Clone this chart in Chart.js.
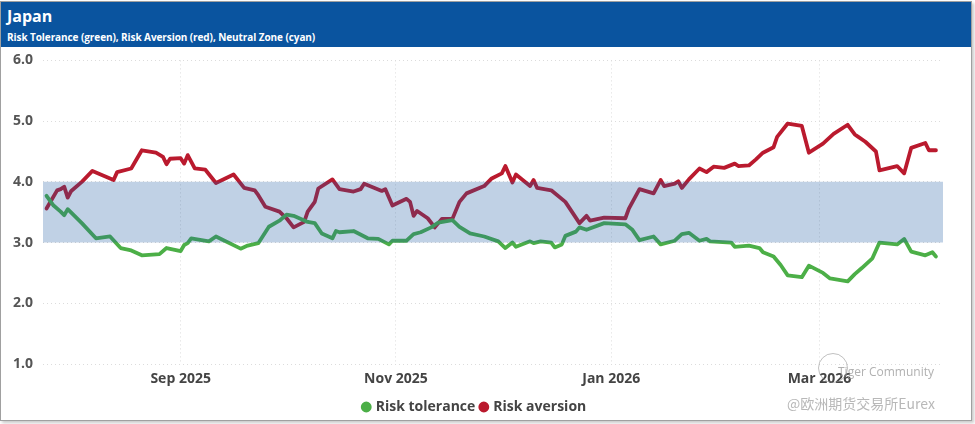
<!DOCTYPE html>
<html>
<head>
<meta charset="utf-8">
<script src="https://cdn.jsdelivr.net/npm/chart.js@4"></script>
<style>
  html, body { margin: 0; padding: 0; background: #ffffff; }
  body { width: 975px; height: 424px; overflow: hidden; font-family: "Open Sans", "Noto Sans", sans-serif; }
  #frame { position: absolute; left: 0; top: 1px; width: 970px; height: 418px; border: 1px solid #a0a0a0; box-shadow: 2px 2px 3px #c8c8c8; background: #fff; }
  #header { position: absolute; left: 0; top: 0; width: 970px; height: 45px; background: #0a549f; color: #fff; }
  #title { position: absolute; left: 6px; top: 3px; font-size: 16px; font-weight: 700; }
  #subtitle { position: absolute; left: 6px; top: 28px; font-size: 10px; letter-spacing: -0.08px; font-weight: 700; }
  #chartbox { position: absolute; left: 0; top: 40px; width: 970px; height: 382px; }
  #wm1 { position: absolute; left: 838px; top: 363px; font-size: 12px; color: rgba(150,150,150,0.75); font-family: "Open Sans", sans-serif; }
  #wm2 { position: absolute; left: 787px; top: 393px; font-size: 14px; color: rgba(160,160,160,0.75); font-family: "Noto Sans CJK SC", sans-serif; }
  #wmc { position: absolute; left: 818px; top: 353px; width: 28px; height: 28px; border: 1px solid rgba(140,140,140,0.55); border-radius: 50%; }
</style>
</head>
<body>
<div id="frame">
  <div id="header">
    <div id="title">Japan</div>
    <div id="subtitle">Risk Tolerance (green), Risk Aversion (red), Neutral Zone (cyan)</div>
  </div>
  <div id="chartbox"><canvas id="c"></canvas></div>
</div>
<div id="wmc"></div>
<div id="wm1">Tiger Community</div>
<div id="wm2">@欧洲期货交易所Eurex</div>
<script>
// ---------------- data ----------------
const toleranceDates = ['2025-07-25','2025-07-27','2025-07-29','2025-07-30','2025-07-31','2025-08-04','2025-08-08','2025-08-12','2025-08-15','2025-08-18','2025-08-21','2025-08-26','2025-08-28','2025-09-01','2025-09-02','2025-09-03','2025-09-04','2025-09-09','2025-09-11','2025-09-18','2025-09-20','2025-09-23','2025-09-26','2025-09-29','2025-10-01','2025-10-03','2025-10-07','2025-10-09','2025-10-11','2025-10-14','2025-10-15','2025-10-16','2025-10-20','2025-10-24','2025-10-27','2025-10-30','2025-10-31','2025-11-04','2025-11-06','2025-11-08','2025-11-11','2025-11-13','2025-11-17','2025-11-19','2025-11-22','2025-11-26','2025-11-30','2025-12-02','2025-12-04','2025-12-05','2025-12-09','2025-12-10','2025-12-12','2025-12-15','2025-12-16','2025-12-18','2025-12-19','2025-12-22','2025-12-23','2025-12-25','2025-12-30','2026-01-05','2026-01-07','2026-01-09','2026-01-13','2026-01-15','2026-01-19','2026-01-21','2026-01-23','2026-01-26','2026-01-28','2026-01-29','2026-02-04','2026-02-05','2026-02-09','2026-02-12','2026-02-13','2026-02-16','2026-02-18','2026-02-20','2026-02-24','2026-02-26','2026-03-02','2026-03-04','2026-03-09','2026-03-11','2026-03-13','2026-03-16','2026-03-18','2026-03-23','2026-03-25','2026-03-27','2026-03-31','2026-04-02','2026-04-03'];
const toleranceValues = [3.77,3.61,3.51,3.45,3.55,3.32,3.07,3.10,2.91,2.87,2.79,2.81,2.91,2.86,2.96,2.99,3.07,3.02,3.10,2.90,2.95,2.99,3.26,3.36,3.46,3.44,3.34,3.32,3.15,3.07,3.19,3.17,3.19,3.07,3.06,2.97,3.03,3.03,3.14,3.17,3.25,3.33,3.37,3.26,3.15,3.10,3.02,2.91,3.00,2.93,3.02,2.99,3.02,3.00,2.92,2.97,3.11,3.18,3.25,3.21,3.32,3.30,3.21,3.04,3.10,2.97,3.03,3.14,3.16,3.03,3.06,3.02,3.00,2.93,2.95,2.91,2.84,2.77,2.63,2.46,2.43,2.62,2.50,2.41,2.36,2.48,2.58,2.74,3.00,2.97,3.06,2.85,2.79,2.84,2.77];

const aversionDates = ['2025-07-25','2025-07-28','2025-07-29','2025-07-30','2025-07-31','2025-08-01','2025-08-04','2025-08-07','2025-08-13','2025-08-14','2025-08-18','2025-08-21','2025-08-25','2025-08-27','2025-08-28','2025-08-29','2025-09-01','2025-09-02','2025-09-03','2025-09-05','2025-09-08','2025-09-11','2025-09-16','2025-09-19','2025-09-22','2025-09-23','2025-09-25','2025-09-29','2025-10-01','2025-10-03','2025-10-06','2025-10-07','2025-10-09','2025-10-10','2025-10-14','2025-10-16','2025-10-20','2025-10-22','2025-10-23','2025-10-28','2025-10-29','2025-10-31','2025-11-04','2025-11-05','2025-11-06','2025-11-07','2025-11-10','2025-11-12','2025-11-14','2025-11-17','2025-11-19','2025-11-21','2025-11-26','2025-11-28','2025-12-01','2025-12-02','2025-12-04','2025-12-05','2025-12-09','2025-12-10','2025-12-11','2025-12-15','2025-12-19','2025-12-23','2025-12-25','2025-12-26','2025-12-30','2026-01-05','2026-01-06','2026-01-09','2026-01-13','2026-01-15','2026-01-16','2026-01-19','2026-01-20','2026-01-21','2026-01-23','2026-01-26','2026-01-28','2026-01-30','2026-02-02','2026-02-05','2026-02-06','2026-02-09','2026-02-11','2026-02-13','2026-02-16','2026-02-17','2026-02-20','2026-02-24','2026-02-26','2026-03-02','2026-03-05','2026-03-09','2026-03-11','2026-03-12','2026-03-14','2026-03-17','2026-03-18','2026-03-23','2026-03-25','2026-03-27','2026-03-31','2026-04-01','2026-04-03'];
const aversionValues = [3.56,3.86,3.88,3.92,3.74,3.85,4.00,4.18,4.03,4.16,4.22,4.52,4.48,4.41,4.29,4.38,4.39,4.30,4.44,4.22,4.20,3.98,4.12,3.90,3.86,3.78,3.59,3.51,3.40,3.25,3.34,3.51,3.67,3.89,4.04,3.88,3.84,3.88,3.97,3.85,3.88,3.61,3.72,3.67,3.44,3.52,3.40,3.25,3.39,3.39,3.67,3.81,3.93,4.05,4.14,4.26,3.99,4.12,3.93,4.03,3.90,3.86,3.67,3.32,3.44,3.36,3.41,3.40,3.56,3.88,3.81,4.03,3.93,3.97,4.01,3.90,4.04,4.22,4.16,4.25,4.23,4.30,4.26,4.27,4.37,4.48,4.57,4.74,4.96,4.92,4.48,4.63,4.79,4.94,4.78,4.74,4.66,4.50,4.19,4.26,4.14,4.56,4.64,4.52,4.52];

const neutralZone = [3.0, 4.0];          // lower / upper bound of neutral zone
const axisRange = ['2025-07-24', '2026-04-05'];
const xTickDates = ['2025-09-01', '2025-11-01', '2026-01-01', '2026-03-01'];
const xTickLabels = ['Sep 2025', 'Nov 2025', 'Jan 2026', 'Mar 2026'];
const yTicks = [1, 2, 3, 4, 5, 6];
const seriesNames = ['Risk tolerance', 'Risk aversion'];

// ---------------- helpers ----------------
function dayNum(s) {
  const p = s.split('-').map(Number);
  return Date.UTC(p[0], p[1] - 1, p[2]) / 86400000;
}
function pts(dates, values) { return dates.map((d, i) => ({ x: dayNum(d), y: values[i] })); }

const xMin = dayNum(axisRange[0]), xMax = dayNum(axisRange[1]);
const tickNums = xTickDates.map(dayNum);

const GREEN = '#4caf47';
const RED = '#ba1a2e';
const FONT = '"Open Sans", "Noto Sans", sans-serif';

new Chart(document.getElementById('c'), {
  type: 'line',
  data: {
    datasets: [
      {
        label: seriesNames[0], data: pts(toleranceDates, toleranceValues),
        borderColor: GREEN, backgroundColor: GREEN, borderWidth: 3.8,
        pointRadius: 0, tension: 0, order: 2, borderJoinStyle: 'round', borderCapStyle: 'round'
      },
      {
        label: seriesNames[1], data: pts(aversionDates, aversionValues),
        borderColor: RED, backgroundColor: RED, borderWidth: 3.8,
        pointRadius: 0, tension: 0, order: 2, borderJoinStyle: 'round', borderCapStyle: 'round'
      },
      {
        label: 'bandTop', data: [{ x: xMin, y: neutralZone[1] }, { x: xMax, y: neutralZone[1] }],
        borderWidth: 0, borderColor: 'rgba(0,0,0,0)', pointRadius: 0,
        backgroundColor: 'rgba(30,90,160,0.28)', fill: '+1', order: 0
      },
      {
        label: 'bandBottom', data: [{ x: xMin, y: neutralZone[0] }, { x: xMax, y: neutralZone[0] }],
        borderWidth: 0, borderColor: 'rgba(0,0,0,0)', pointRadius: 0, fill: false, order: 1
      }
    ]
  },
  options: {
    responsive: true,
    maintainAspectRatio: false,
    animation: false,
    layout: { padding: { left: 6, right: 28, top: 0, bottom: 0 } },
    scales: {
      x: {
        type: 'linear', min: xMin, max: xMax,
        afterBuildTicks: (s) => { s.ticks = tickNums.map(v => ({ value: v })); },
        afterFit: (s) => { s.height = 30; },
        ticks: {
          callback: (v) => { const i = tickNums.indexOf(v); return i >= 0 ? xTickLabels[i] : ''; },
          color: '#444', font: { family: FONT, size: 14, weight: '700' }, maxRotation: 0, padding: 7
        },
        grid: { color: '#dcdcdc', drawTicks: false, lineWidth: 1 },
        border: { display: false, dash: [1, 3] }
      },
      y: {
        min: 1, max: 6,
        afterBuildTicks: (s) => { s.ticks = yTicks.map(v => ({ value: v })); },
        afterFit: (s) => { s.width = 36; },
        ticks: {
          callback: (v) => v.toFixed(1),
          color: '#555', font: { family: FONT, size: 14, weight: '700' }, padding: 10
        },
        grid: { color: '#dcdcdc', drawTicks: false, lineWidth: 1 },
        border: { display: false, dash: [1, 3] }
      }
    },
    plugins: {
      legend: {
        position: 'bottom',
        labels: {
          filter: (item) => item.datasetIndex < 2,
          usePointStyle: true, pointStyle: 'circle', boxWidth: 5, boxHeight: 5, padding: 6,
          color: '#444', font: { family: FONT, size: 14, weight: '700' }
        }
      },
      tooltip: { enabled: false }
    }
  }
});
</script>
</body>
</html>
